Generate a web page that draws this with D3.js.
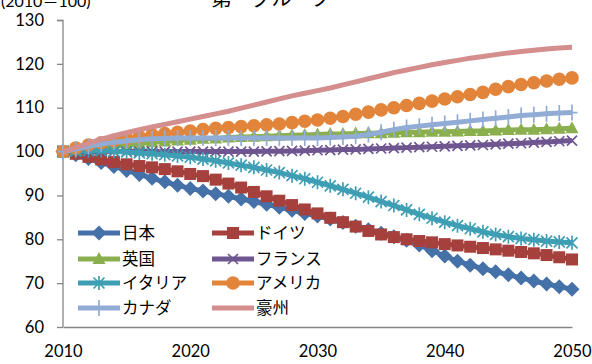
<!DOCTYPE html>
<html><head><meta charset="utf-8">
<script src="https://cdn.jsdelivr.net/npm/d3@7"></script>
<style>body{margin:0;background:#fff}svg{display:block}</style>
</head><body>
<svg id="c" width="592" height="364"></svg>
<script>
const years = d3.range(2010, 2051);
const yTicks = [60,70,80,90,100,110,120,130];
const xTicks = [2010,2020,2030,2040,2050];
const seriesNames = ["日本","ドイツ","英国","フランス","イタリア","アメリカ","カナダ","豪州"];
const japan = [100,99.3,98.4,97.5,96.6,95.7,94.8,93.9,93.1,92.3,91.6,91.0,90.4,89.8,89.2,88.6,88.0,87.3,86.6,85.9,85.3,84.6,83.8,83.0,82.2,81.4,80.6,79.8,78.7,77.4,76.2,75.0,74.1,73.3,72.6,71.9,71.2,70.5,69.8,69.2,68.6];
const germany = [100,99.5,98.8,98.2,97.6,97.1,96.7,96.4,96.0,95.5,94.9,94.4,93.6,92.7,91.8,90.8,89.8,88.8,87.8,86.8,85.9,84.9,83.9,82.9,81.9,81.1,80.5,80.0,79.6,79.3,78.9,78.6,78.3,78.0,77.7,77.4,77.1,76.8,76.4,75.9,75.4];
const uk = [100,100.3,100.6,100.9,101.2,101.5,101.8,102.1,102.3,102.5,102.7,102.9,103.0,103.2,103.3,103.4,103.5,103.6,103.7,103.8,103.9,104.0,104.0,104.1,104.2,104.2,104.3,104.4,104.4,104.5,104.5,104.6,104.7,104.7,104.8,104.9,105.0,105.0,105.1,105.2,105.3];
const france = [100,100,100,100,100,100,100,100,100,100,100,100,100,100,100,100,100.05,100.1,100.15,100.2,100.3,100.35,100.45,100.5,100.6,100.7,100.8,100.9,101.0,101.1,101.2,101.3,101.4,101.5,101.65,101.8,101.9,102.05,102.2,102.35,102.5];
const italy = [100,100.1,100.2,100.2,100.1,99.9,99.7,99.5,99.3,99.0,98.7,98.3,97.9,97.4,96.9,96.4,95.8,95.2,94.5,93.8,93.0,92.2,91.4,90.5,89.6,88.6,87.7,86.7,85.7,84.8,83.9,83.1,82.4,81.7,81.1,80.6,80.2,79.9,79.6,79.4,79.2];
const usa = [100,100.8,101.5,102.0,102.5,103.0,103.4,103.8,104.1,104.4,104.7,105.0,105.3,105.5,105.7,105.9,106.1,106.3,106.6,106.9,107.2,107.6,108.0,108.5,109.0,109.5,110.0,110.5,111.0,111.5,112.0,112.5,113.0,113.5,114.2,114.8,115.3,115.7,116.1,116.5,116.8];
const canada = [100,100.6,101.2,101.7,102.1,102.4,102.7,102.9,103.0,103.1,103.1,103.1,103.1,103.1,103.1,103.1,103.1,103.1,103.1,103.1,103.1,103.2,103.3,103.5,103.9,104.4,105.0,105.5,105.8,106.1,106.4,106.7,107.0,107.3,107.6,107.9,108.2,108.4,108.6,108.8,108.9];
const australia = [100,100.9,101.9,102.8,103.6,104.3,105.0,105.6,106.2,106.8,107.4,108.0,108.6,109.2,109.9,110.6,111.3,112.0,112.7,113.3,113.9,114.5,115.2,115.9,116.6,117.3,118.0,118.6,119.2,119.8,120.3,120.8,121.3,121.7,122.1,122.5,122.8,123.1,123.4,123.6,123.8];
const seriesValues = [japan, germany, uk, france, italy, usa, canada, australia];
const colors = ["#4571A9","#A5403D","#8BAF4E","#6F5691","#3E9EB4","#E2853A","#91ACD5","#D38E8D"];
const markers = ["diamond","square","triangle","x","star","circle","plus","none"];

const svg = d3.select("#c");
const x = d3.scaleLinear().domain([2010,2050]).range([63,572]);
const y = d3.scaleLinear().domain([60,130]).range([327,20]);
const axisColor = "#868686";

// titles (partly above the top edge, as in the reference)
svg.append("text").attr("x",271).attr("y",6).attr("text-anchor","middle")
  .attr("font-family","'Noto Sans CJK JP'").attr("font-size",20).attr("fill","#000").text("第一グループ");
svg.append("text").attr("x",1).attr("y",7)
  .attr("font-family","Lato, 'Noto Sans CJK JP'").attr("font-size",16).attr("fill","#000").text("(2010＝100)");

// y axis
const yAxis = svg.append("g").attr("transform","translate(63,0)")
  .call(d3.axisLeft(y).tickValues(yTicks).tickSize(6).tickPadding(13));
yAxis.select(".domain").attr("stroke",axisColor).attr("stroke-width",1.3).attr("d","M-6,20.5H0V327");
yAxis.selectAll(".tick line").attr("stroke",axisColor).attr("stroke-width",1.3);
yAxis.selectAll(".tick text").attr("font-family","Lato").attr("font-size",16.5).attr("fill","#000");

// x axis
const xAxis = svg.append("g").attr("transform","translate(0,327)")
  .call(d3.axisBottom(x).tickValues(xTicks).tickFormat(d3.format("d")).tickSize(0).tickPadding(18));
xAxis.select(".domain").attr("stroke",axisColor).attr("stroke-width",1.3);
xAxis.selectAll(".tick text").attr("font-family","Lato").attr("font-size",16.5).attr("fill","#000").attr("dy","0.75em");

function drawMarker(g, type, cx, cy, color){
  if(type==="diamond"){
    g.append("path").attr("d",`M${cx},${cy-7.5}L${cx+7.5},${cy}L${cx},${cy+7.5}L${cx-7.5},${cy}Z`).attr("fill",color);
  } else if(type==="square"){
    g.append("rect").attr("x",cx-6).attr("y",cy-6).attr("width",12).attr("height",12).attr("fill",color);
  } else if(type==="triangle"){
    g.append("path").attr("d",`M${cx},${cy-7}L${cx+6.5},${cy+5}L${cx-6.5},${cy+5}Z`).attr("fill",color);
  } else if(type==="x"){
    g.append("path").attr("d",`M${cx-5},${cy-5}L${cx+5},${cy+5}M${cx+5},${cy-5}L${cx-5},${cy+5}`)
      .attr("stroke",color).attr("stroke-width",1.7).attr("fill","none");
  } else if(type==="star"){
    g.append("path").attr("d",`M${cx-5.5},${cy-5.5}L${cx+5.5},${cy+5.5}M${cx+5.5},${cy-5.5}L${cx-5.5},${cy+5.5}M${cx},${cy-7}L${cx},${cy+7}`)
      .attr("stroke",color).attr("stroke-width",1.7).attr("fill","none");
  } else if(type==="circle"){
    g.append("circle").attr("cx",cx).attr("cy",cy).attr("r",6.8).attr("fill",color);
  } else if(type==="plus"){
    g.append("path").attr("d",`M${cx},${cy-8}L${cx},${cy+8}M${cx-5.5},${cy}L${cx+5.5},${cy}`)
      .attr("stroke",color).attr("stroke-width",1.7).attr("fill","none");
  }
}

const line = d3.line().x((d,i)=>x(years[i])).y(d=>y(d));
seriesValues.forEach((vals, si) => {
  const g = svg.append("g");
  g.append("path").attr("d", line(vals)).attr("fill","none").attr("stroke",colors[si])
    .attr("stroke-width",5).attr("stroke-linejoin","round");
  vals.forEach((v,i) => drawMarker(g, markers[si], x(years[i]), y(v), colors[si]));
});

// legend
const legRows = [233,259,283,308];
const legCols = [78,212];
const lg = svg.append("g");
seriesNames.forEach((name, i) => {
  const col = i % 2, row = Math.floor(i / 2);
  const lx = legCols[col], ly = legRows[row];
  lg.append("line").attr("x1",lx).attr("x2",lx+42).attr("y1",ly).attr("y2",ly)
    .attr("stroke",colors[i]).attr("stroke-width",5);
  drawMarker(lg, markers[i], lx+21, ly, colors[i]);
  lg.append("text").attr("x",lx+44).attr("y",ly).attr("dy","0.36em")
    .attr("font-family","'Noto Sans CJK JP'").attr("font-size",16.5).attr("fill","#000").text(name);
});
</script>
</body></html>
